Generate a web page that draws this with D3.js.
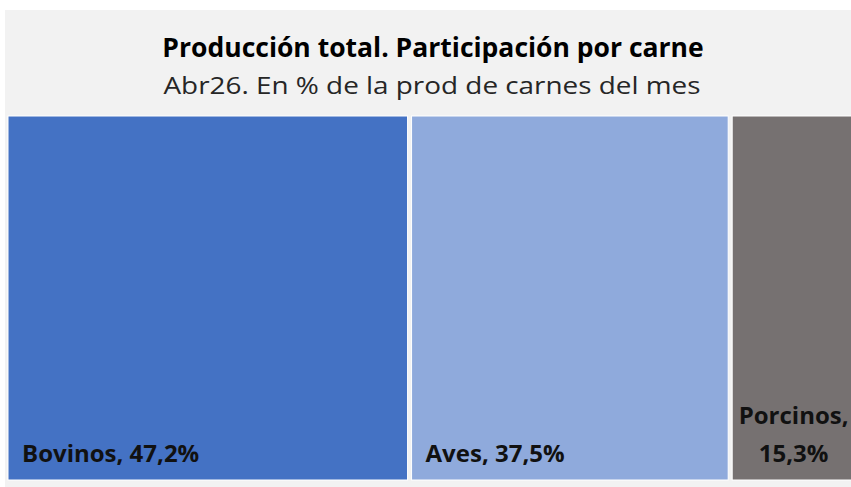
<!DOCTYPE html>
<html>
<head>
<meta charset="utf-8">
<script src="https://cdn.jsdelivr.net/npm/d3@7"></script>
<style>
  body { margin: 0; background: #fff; }
  svg { display: block; }
</style>
</head>
<body>
<div id="chart"></div>
<script>
const categories = ["Bovinos", "Aves", "Porcinos"];
const shares = [47.2, 37.5, 15.3];
const labels = [["Bovinos, 47,2%"], ["Aves, 37,5%"], ["Porcinos,", "15,3%"]];
const colors = ["#4472C4", "#8FAADC", "#767171"];

const width = 851, height = 487;
const font = "'Open Sans', sans-serif";

const svg = d3.select("#chart")
  .append("svg")
  .attr("width", width)
  .attr("height", height);

// chart area background
svg.append("rect")
  .attr("x", 5).attr("y", 10)
  .attr("width", width - 5).attr("height", height - 10)
  .attr("fill", "#F2F2F2");

// titles
svg.append("text")
  .attr("x", 433).attr("y", 57)
  .attr("text-anchor", "middle")
  .attr("font-family", font)
  .attr("font-weight", "bold")
  .attr("font-size", 26.5)
  .attr("fill", "#000")
  .text("Producción total. Participación por carne");

svg.append("text")
  .attr("x", 432).attr("y", 94)
  .attr("text-anchor", "middle")
  .attr("font-family", font)
  .attr("font-size", 24.5)
  .attr("textLength", 537)
  .attr("lengthAdjust", "spacingAndGlyphs")
  .attr("fill", "#262626")
  .text("Abr26. En % de la prod de carnes del mes");

// treemap
const data = {
  name: "root",
  children: categories.map((c, i) => ({ name: c, value: shares[i], label: labels[i], color: colors[i] }))
};

const root = d3.hierarchy(data).sum(d => d.value);

d3.treemap()
  .tile(d3.treemapDice)
  .size([851, 364])
  .paddingInner(4)(root);

const g = svg.append("g").attr("transform", "translate(8,116)");

const leaf = g.selectAll("g")
  .data(root.leaves())
  .join("g")
  .attr("transform", d => `translate(${d.x0},${d.y0})`);

leaf.append("rect")
  .attr("width", d => d.x1 - d.x0)
  .attr("height", d => d.y1 - d.y0)
  .attr("fill", d => d.data.color)
  .attr("stroke", "#fff")
  .attr("stroke-width", 1);

leaf.each(function (d) {
  const lines = d.data.label;
  const t = d3.select(this).append("text")
    .attr("font-family", font)
    .attr("font-weight", "bold")
    .attr("font-size", 24)
    .attr("fill", "#111");
  const h = d.y1 - d.y0;
  if (lines.length === 1) {
    t.append("tspan").attr("x", 14).attr("y", h - 18).text(lines[0]);
  } else {
    const cx = (d.x1 - d.x0) / 2 - 2;
    t.attr("text-anchor", "middle");
    lines.forEach((l, i) => {
      t.append("tspan").attr("x", cx).attr("y", h - 18 - (lines.length - 1 - i) * 38).text(l);
    });
  }
});
</script>
</body>
</html>
